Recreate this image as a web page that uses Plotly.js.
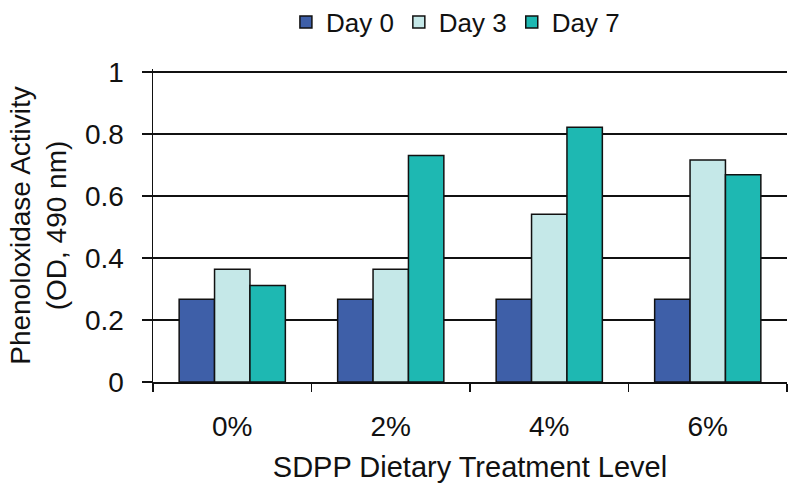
<!DOCTYPE html>
<html>
<head>
<meta charset="utf-8">
<script src="https://cdn.plot.ly/plotly-3.0.1.min.js"></script>
<style>html,body{margin:0;padding:0;background:#fff;}#chart{width:793px;height:483px;}</style>
</head>
<body>
<div id="chart"></div>
<script>
const categories = ["0%", "2%", "4%", "6%"];
const seriesNames = ["Day 0", "Day 3", "Day 7"];
const day0 = [0.267, 0.267, 0.267, 0.267];
const day3 = [0.364, 0.364, 0.541, 0.716];
const day7 = [0.311, 0.731, 0.822, 0.669];
const yTicks = [0, 0.2, 0.4, 0.6, 0.8, 1];
const yTickLabels = ["0", "0.2", "0.4", "0.6", "0.8", "1"];

const colors = ["#3E5FA8", "#C5E8E8", "#1EB8B2"];
const values = [day0, day3, day7];

const traces = values.map((v, i) => ({
  type: "bar",
  name: seriesNames[i],
  x: categories,
  y: v,
  marker: {color: colors[i], line: {color: "#111", width: 1.5}},
  hoverinfo: "skip"
}));

const fam = "Liberation Sans, Arial, sans-serif";
const f = (s) => ({family: fam, size: s, color: "#111"});

const layout = {
  width: 793, height: 483,
  margin: {l: 153, r: 6, t: 69, b: 101, autoexpand: false},
  paper_bgcolor: "#fff", plot_bgcolor: "#fff",
  barmode: "group", bargap: 0.33, bargroupgap: 0,
  font: f(26),
  showlegend: true,
  legend: {orientation: "h", x: 0.477, xanchor: "center", y: 1.15, yanchor: "middle",
           font: f(26), itemwidth: 30, traceorder: "normal", bgcolor: "rgba(0,0,0,0)"},
  xaxis: {
    type: "category",
    showline: true, linecolor: "#111", linewidth: 1.5,
    ticks: "outside", tickson: "boundaries", ticklen: 8, tickwidth: 1.5, tickcolor: "#111",
    tickfont: f(28), ticklabelstandoff: 19,
    showgrid: false, zeroline: false,
    title: {text: "SDPP Dietary Treatment Level", font: f(29), standoff: 17}
  },
  yaxis: {
    range: [0, 1.01],
    tickvals: yTicks, ticktext: yTickLabels,
    showline: true, linecolor: "#111", linewidth: 1.5,
    ticks: "outside", ticklen: 10, tickwidth: 1.5, tickcolor: "#111",
    showgrid: true, gridcolor: "#111", gridwidth: 1.5,
    zeroline: false,
    tickfont: f(28), ticklabelstandoff: 12,
    title: {text: "Phenoloxidase Activity<br>(OD, 490 nm)", font: f(28), standoff: 10}
  }
};

Plotly.newPlot("chart", traces, layout, {staticPlot: true, displayModeBar: false});
</script>
</body>
</html>
